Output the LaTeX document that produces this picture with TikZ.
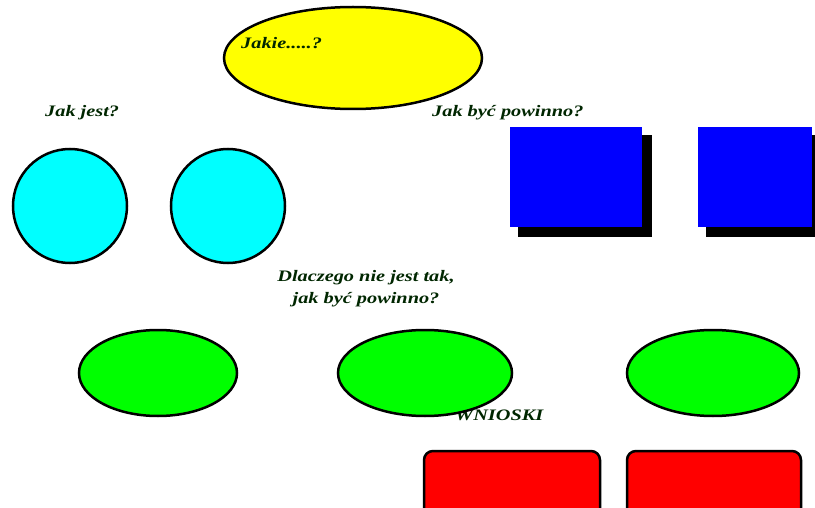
\documentclass[tikz,border=0pt]{standalone}
\usepackage{fontspec}
\setmainfont{Liberation Serif}[FakeStretch=1.27]
\usetikzlibrary{shapes.geometric}
\definecolor{cyanf}{RGB}{0,255,255}
\definecolor{bluef}{RGB}{0,0,255}
\definecolor{greenf}{RGB}{0,255,0}
\definecolor{redf}{RGB}{255,0,0}
\definecolor{yellowf}{RGB}{255,255,0}
\tikzset{
  lbl/.style={font=\bfseries\itshape\fontsize{16}{23}\selectfont, inner sep=0pt, text=black!85!green},
  outl/.style={draw=black, line width=2.5pt},
  shadowbox/.style={fill=black, draw=none},
  bluebox/.style={fill=bluef, draw=none},
  redbox/.style={outl, fill=redf, rounded corners=9pt}
}
\begin{document}
\begin{tikzpicture}[x=1pt,y=-1pt]
\useasboundingbox (0,0) rectangle (815,508);
% yellow
\draw[outl, fill=yellowf] (353,58) ellipse [x radius=129, y radius=51];
\node[lbl, anchor=base west] (t1) at (241,49) {Jakie.....?};
\node[lbl, anchor=base west] (t2) at (45,117) {Jak jest?};
\node[lbl, anchor=base west] (t3) at (432,117) {Jak być powinno?};
% cyan circles
\draw[outl, fill=cyanf] (70,206) circle [radius=57];
\draw[outl, fill=cyanf] (228,206) circle [radius=57];
% blue squares with shadow
\fill[shadowbox] (518,135) rectangle (652,237);
\fill[bluebox] (510,127) rectangle (642,227);
\fill[shadowbox] (706,135) rectangle (815,237);
\fill[bluebox] (698,127) rectangle (812,227);
% question
\node[lbl, align=center, anchor=base] (t4) at (366,304) {Dlaczego nie jest tak,\\jak być powinno?};
% WNIOSKI
\node[lbl, anchor=base west] (t5) at (455,420) {WNIOSKI};
% green ellipses
\draw[outl, fill=greenf] (158,373) ellipse [x radius=79, y radius=43];
\draw[outl, fill=greenf] (425,373) ellipse [x radius=87, y radius=43];
\draw[outl, fill=greenf] (713,373) ellipse [x radius=86, y radius=43];
% red boxes
\draw[redbox] (424,451) rectangle (600,520);
\draw[redbox] (627,451) rectangle (801,520);
\end{tikzpicture}
\end{document}
